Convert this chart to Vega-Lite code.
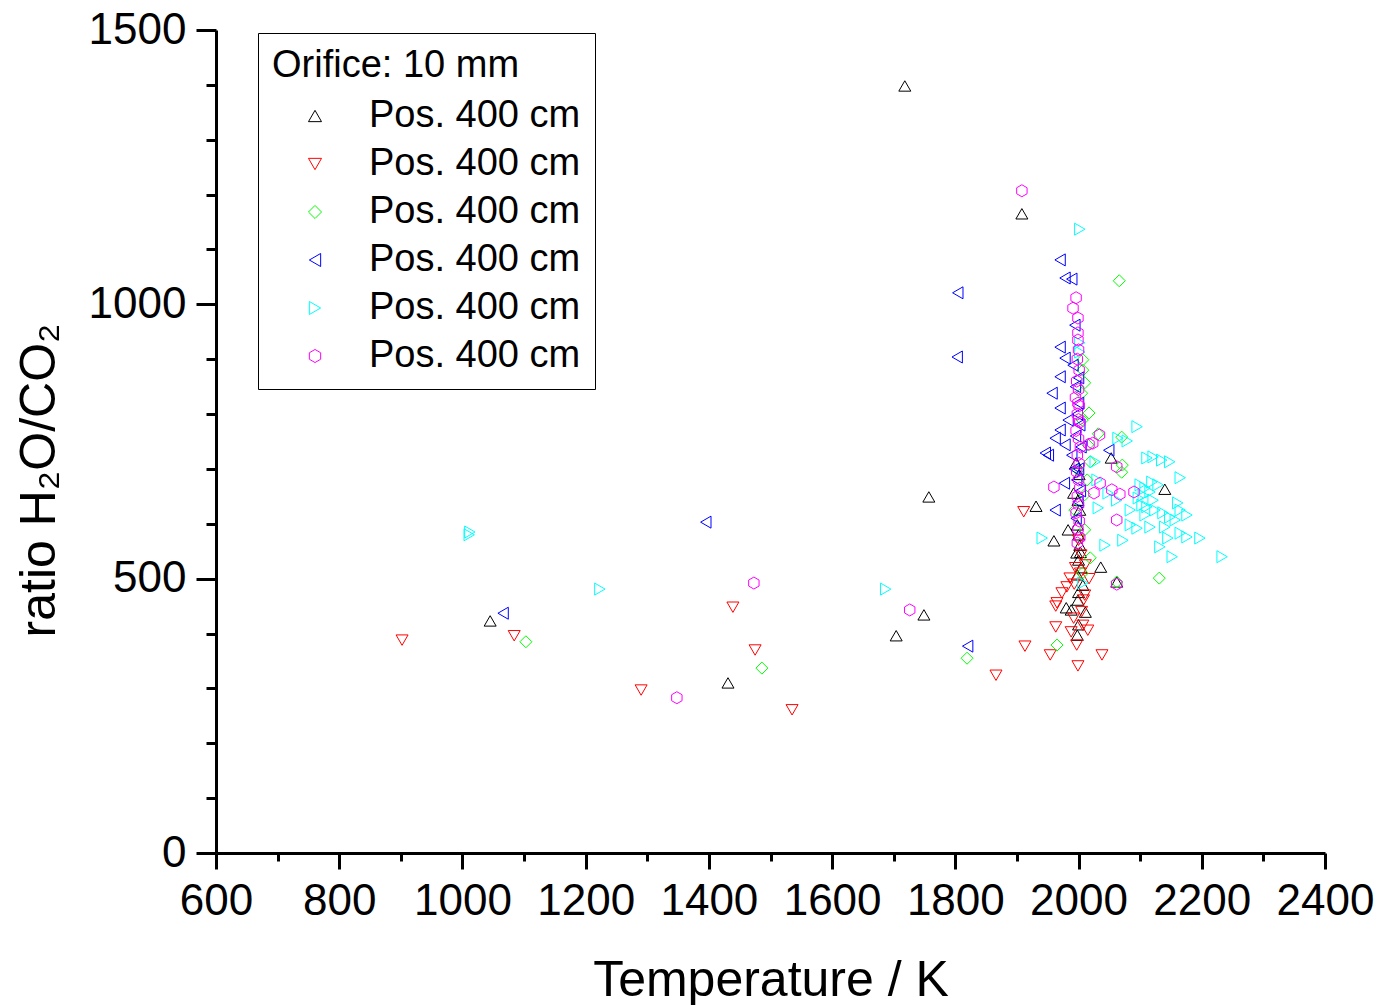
{
  "$schema": "https://vega.github.io/schema/vega-lite/v6.json",
  "width": 1109,
  "height": 823,
  "autosize": {"type": "none"},
  "padding": {"left": 216, "top": 30, "right": 52, "bottom": 152},
  "background": "white",
  "config": {
    "view": {"stroke": null},
    "font": "Liberation Sans",
    "axis": {"grid": false, "domainColor": "black", "tickColor": "black", "labelColor": "black", "titleColor": "black", "labelFont": "Liberation Sans", "titleFont": "Liberation Sans", "titleFontWeight": "normal", "domainWidth": 3, "tickWidth": 3, "labelOverlap": false, "labelFlush": false}
  },
  "data": {"values": [
    {"s":"a","T":1718,"R":1398},{"s":"a","T":1908,"R":1165},{"s":"a","T":1757,"R":649},{"s":"a","T":1931,"R":632},{"s":"a","T":1960,"R":569},{"s":"a","T":2053,"R":720},{"s":"a","T":2140,"R":663},{"s":"a","T":2036,"R":521},{"s":"a","T":2062,"R":494},{"s":"a","T":1045,"R":423},{"s":"a","T":1431,"R":310},{"s":"a","T":1704,"R":396},{"s":"a","T":1749,"R":434},{"s":"a","T":1980,"R":447},
    {"s":"a","T":1996,"R":711},{"s":"a","T":2001,"R":690},{"s":"a","T":1992,"R":656},{"s":"a","T":1999,"R":643},{"s":"a","T":2002,"R":625},{"s":"a","T":1998,"R":598},{"s":"a","T":2000,"R":580},{"s":"a","T":2002,"R":561},{"s":"a","T":1997,"R":547},{"s":"a","T":2000,"R":534},{"s":"a","T":2004,"R":520},{"s":"a","T":1998,"R":507},{"s":"a","T":2007,"R":488},{"s":"a","T":2000,"R":475},{"s":"a","T":1999,"R":461},{"s":"a","T":1988,"R":443},{"s":"a","T":2011,"R":439},{"s":"a","T":2000,"R":416},{"s":"a","T":1998,"R":397},{"s":"a","T":1983,"R":589},{"s":"a","T":2003,"R":548},
    {"s":"b","T":902,"R":388},{"s":"b","T":1084,"R":396},{"s":"b","T":1290,"R":297},{"s":"b","T":1439,"R":448},{"s":"b","T":1475,"R":370},{"s":"b","T":1535,"R":261},{"s":"b","T":1866,"R":324},{"s":"b","T":1913,"R":377},{"s":"b","T":1911,"R":622},{"s":"b","T":1954,"R":361},{"s":"b","T":2038,"R":361},{"s":"b","T":1999,"R":341},{"s":"b","T":1963,"R":412},{"s":"b","T":1963,"R":450},{"s":"b","T":1973,"R":474},{"s":"b","T":1981,"R":485},{"s":"b","T":1986,"R":501},{"s":"b","T":2008,"R":461},{"s":"b","T":1965,"R":456},{"s":"b","T":2015,"R":406},{"s":"b","T":1988,"R":403},{"s":"b","T":1997,"R":379},{"s":"b","T":2000,"R":570},{"s":"b","T":2004,"R":543},{"s":"b","T":2011,"R":525},{"s":"b","T":1995,"R":520},{"s":"b","T":2003,"R":510},{"s":"b","T":1993,"R":490},{"s":"b","T":2010,"R":470},{"s":"b","T":2005,"R":440},{"s":"b","T":1992,"R":428},{"s":"b","T":2017,"R":500},{"s":"b","T":2007,"R":415},
    {"s":"c","T":1103,"R":385},{"s":"c","T":1486,"R":337},{"s":"c","T":1819,"R":355},{"s":"c","T":1965,"R":379},{"s":"c","T":2066,"R":1043},{"s":"c","T":2131,"R":501},{"s":"c","T":2062,"R":494},{"s":"c","T":2070,"R":694},{"s":"c","T":2071,"R":707},{"s":"c","T":2070,"R":758},{"s":"c","T":2032,"R":764},{"s":"c","T":2017,"R":802},{"s":"c","T":2010,"R":653},{"s":"c","T":2014,"R":680},{"s":"c","T":2019,"R":713},{"s":"c","T":2015,"R":744},{"s":"c","T":2006,"R":789},{"s":"c","T":2010,"R":857},{"s":"c","T":2007,"R":899},{"s":"c","T":2019,"R":538},{"s":"c","T":2010,"R":589},{"s":"c","T":1994,"R":625},{"s":"c","T":1999,"R":698},{"s":"c","T":2006,"R":510},{"s":"c","T":2007,"R":880},{"s":"c","T":2005,"R":838},
    {"s":"d","T":1066,"R":437},{"s":"d","T":1395,"R":603},{"s":"d","T":1804,"R":1021},{"s":"d","T":1803,"R":904},{"s":"d","T":1820,"R":377},{"s":"d","T":1970,"R":1081},{"s":"d","T":1978,"R":1048},{"s":"d","T":1989,"R":1046},{"s":"d","T":1994,"R":962},{"s":"d","T":1970,"R":922},{"s":"d","T":1978,"R":902},{"s":"d","T":1991,"R":889},{"s":"d","T":1970,"R":868},{"s":"d","T":2000,"R":866},{"s":"d","T":1957,"R":838},{"s":"d","T":1970,"R":811},{"s":"d","T":1983,"R":789},{"s":"d","T":1970,"R":771},{"s":"d","T":1962,"R":756},{"s":"d","T":1978,"R":744},{"s":"d","T":1989,"R":725},{"s":"d","T":1951,"R":725},{"s":"d","T":2049,"R":734},{"s":"d","T":1946,"R":729},{"s":"d","T":1962,"R":625},{"s":"d","T":1977,"R":674},{"s":"d","T":1995,"R":850},{"s":"d","T":2000,"R":820},{"s":"d","T":1998,"R":800},{"s":"d","T":2002,"R":780},{"s":"d","T":1995,"R":760},{"s":"d","T":2000,"R":700},{"s":"d","T":1997,"R":680},{"s":"d","T":2003,"R":660},{"s":"d","T":1999,"R":640},{"s":"d","T":1993,"R":700},{"s":"d","T":2004,"R":740},{"s":"d","T":1996,"R":610},
    {"s":"e","T":1011,"R":580},{"s":"e","T":1012,"R":585},{"s":"e","T":1223,"R":481},{"s":"e","T":1687,"R":481},{"s":"e","T":2002,"R":1137},{"s":"e","T":2002,"R":930},{"s":"e","T":2002,"R":913},{"s":"e","T":2095,"R":777},{"s":"e","T":2064,"R":756},{"s":"e","T":2079,"R":751},{"s":"e","T":2111,"R":720},{"s":"e","T":2121,"R":722},{"s":"e","T":2135,"R":716},{"s":"e","T":2148,"R":713},{"s":"e","T":2165,"R":684},{"s":"e","T":2030,"R":680},{"s":"e","T":2048,"R":656},{"s":"e","T":2062,"R":643},{"s":"e","T":2100,"R":671},{"s":"e","T":2108,"R":665},{"s":"e","T":2119,"R":676},{"s":"e","T":2129,"R":671},{"s":"e","T":2097,"R":647},{"s":"e","T":2103,"R":634},{"s":"e","T":2111,"R":631},{"s":"e","T":2121,"R":643},{"s":"e","T":2161,"R":638},{"s":"e","T":2165,"R":625},{"s":"e","T":2176,"R":616},{"s":"e","T":2137,"R":620},{"s":"e","T":2148,"R":612},{"s":"e","T":2157,"R":607},{"s":"e","T":2032,"R":629},{"s":"e","T":2084,"R":625},{"s":"e","T":2084,"R":598},{"s":"e","T":2095,"R":592},{"s":"e","T":2116,"R":594},{"s":"e","T":2140,"R":594},{"s":"e","T":2145,"R":574},{"s":"e","T":2165,"R":583},{"s":"e","T":2176,"R":576},{"s":"e","T":2197,"R":574},{"s":"e","T":2072,"R":570},{"s":"e","T":2043,"R":561},{"s":"e","T":2132,"R":558},{"s":"e","T":2152,"R":540},{"s":"e","T":2233,"R":540},{"s":"e","T":1941,"R":574},{"s":"e","T":2105,"R":652},{"s":"e","T":2116,"R":658},{"s":"e","T":2124,"R":625},{"s":"e","T":2108,"R":616},{"s":"e","T":2027,"R":713},{"s":"e","T":2007,"R":492},
    {"s":"f","T":1348,"R":283},{"s":"f","T":1473,"R":492},{"s":"f","T":1726,"R":443},{"s":"f","T":1908,"R":1207},{"s":"f","T":1996,"R":1012},{"s":"f","T":1991,"R":993},{"s":"f","T":1999,"R":975},{"s":"f","T":1999,"R":948},{"s":"f","T":1999,"R":935},{"s":"f","T":2000,"R":917},{"s":"f","T":1998,"R":900},{"s":"f","T":2001,"R":880},{"s":"f","T":1997,"R":860},{"s":"f","T":2000,"R":845},{"s":"f","T":1995,"R":830},{"s":"f","T":2001,"R":815},{"s":"f","T":1998,"R":800},{"s":"f","T":2002,"R":785},{"s":"f","T":1996,"R":770},{"s":"f","T":2000,"R":755},{"s":"f","T":2003,"R":740},{"s":"f","T":1998,"R":725},{"s":"f","T":2001,"R":710},{"s":"f","T":1997,"R":695},{"s":"f","T":2000,"R":680},{"s":"f","T":2002,"R":665},{"s":"f","T":1998,"R":650},{"s":"f","T":2000,"R":635},{"s":"f","T":1996,"R":620},{"s":"f","T":2001,"R":605},{"s":"f","T":1999,"R":590},{"s":"f","T":2002,"R":575},{"s":"f","T":1998,"R":565},{"s":"f","T":2000,"R":790},{"s":"f","T":1999,"R":820},{"s":"f","T":2034,"R":762},{"s":"f","T":2017,"R":745},{"s":"f","T":2062,"R":704},{"s":"f","T":2054,"R":662},{"s":"f","T":2067,"R":654},{"s":"f","T":2090,"R":658},{"s":"f","T":2062,"R":607},{"s":"f","T":2062,"R":490},{"s":"f","T":1960,"R":667},{"s":"f","T":2035,"R":674},{"s":"f","T":2025,"R":656},{"s":"f","T":2023,"R":747}
  ]},
  "layer": [
    {
      "mark": {"type": "point", "filled": false, "strokeWidth": 1, "size": 144, "opacity": 1},
      "encoding": {
        "x": {"field": "T", "type": "quantitative", "scale": {"domain": [600, 2400], "nice": false, "zero": false},
              "axis": {"orient": "bottom", "values": [600,800,1000,1200,1400,1600,1800,2000,2200,2400], "format": "d", "tickSize": 16, "labelFontSize": 44, "labelPadding": 10, "title": "Temperature / K", "titleFontSize": 50, "titlePadding": 32}},
        "y": {"field": "R", "type": "quantitative", "scale": {"domain": [0, 1500], "nice": false},
              "axis": {"orient": "left", "values": [0,500,1000,1500], "format": "d", "tickSize": 20, "labelFontSize": 44, "labelPadding": 10, "title": "ratio H₂O/CO₂", "titleFontSize": 50, "titlePadding": 24, "titleY": 450}},
        "color": {"field": "s", "type": "nominal",
                  "scale": {"domain": ["a","b","c","d","e","f"], "range": ["#000000","#FF0000","#00FF00","#0000FF","#00FFFF","#FF00FF"]},
                  "legend": {"orient": "none", "legendX": 42, "legendY": 3, "title": "Orifice: 10 mm", "titleFontSize": 38, "titleFontWeight": "normal", "titleColor": "black", "titleFont": "Liberation Sans", "titleAnchor": "start", "titleLimit": 600, "titlePadding": 12, "labelFontSize": 38, "labelFont": "Liberation Sans", "labelColor": "black", "labelExpr": "'Pos. 400 cm'", "strokeColor": "black", "padding": 14, "symbolOffset": 24, "labelOffset": 35, "rowPadding": 10, "symbolSize": 170, "symbolStrokeWidth": 1, "labelLimit": 400}},
        "shape": {"field": "s", "type": "nominal",
                  "scale": {"domain": ["a","b","c","d","e","f"], "range": ["triangle-up","triangle-down","diamond","triangle-left","triangle-right","M0,-1L0.866,-0.5L0.866,0.5L0,1L-0.866,0.5L-0.866,-0.5Z"]}}
      }
    },
    {
      "mark": {"type": "point", "opacity": 0},
      "encoding": {
        "x": {"field": "T", "type": "quantitative", "scale": {"domain": [600, 2400], "nice": false, "zero": false},
              "axis": {"orient": "bottom", "values": [700,900,1100,1300,1500,1700,1900,2100,2300], "tickSize": 8, "labels": false, "domain": false, "title": null}},
        "y": {"field": "R", "type": "quantitative", "scale": {"domain": [0, 1500], "nice": false},
              "axis": {"orient": "left", "values": [100,200,300,400,600,700,800,900,1100,1200,1300,1400], "tickSize": 10, "labels": false, "domain": false, "title": null}}
      }
    }
  ],
  "resolve": {"axis": {"x": "independent", "y": "independent"}}
}
